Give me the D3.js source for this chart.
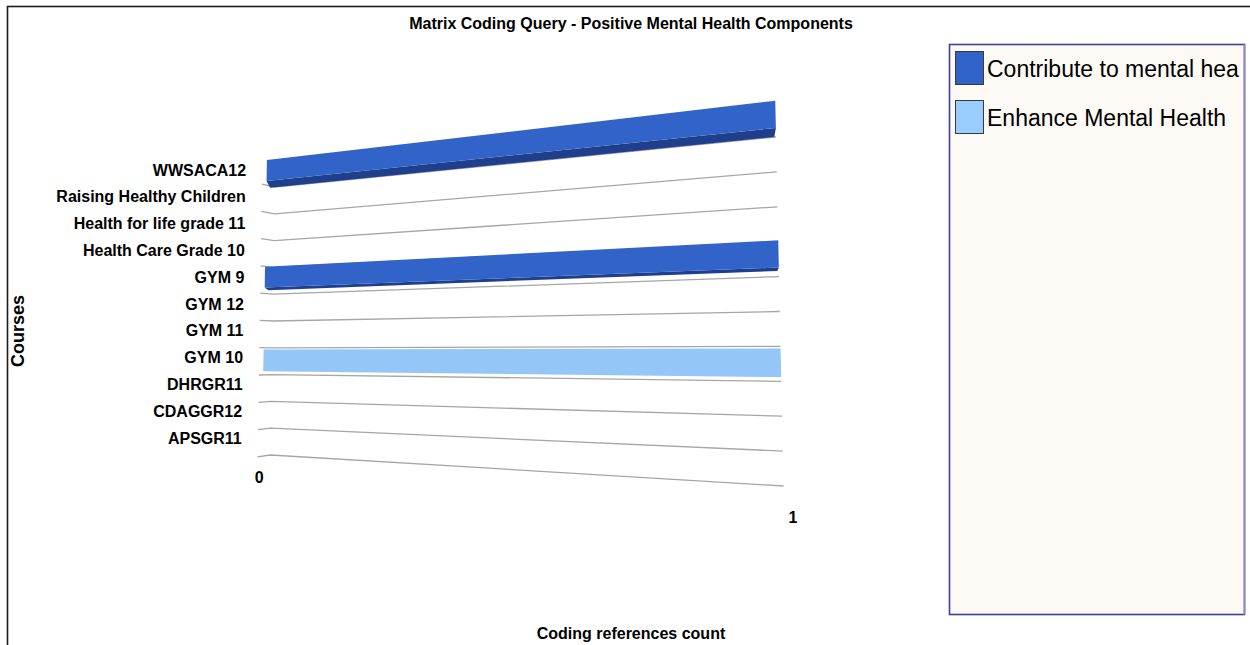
<!DOCTYPE html>
<html>
<head>
<meta charset="utf-8">
<script src="https://cdn.jsdelivr.net/npm/d3@7"></script>
<style>
  body { margin: 0; background: #fff; }
  svg { display: block; }
  text { font-family: "Liberation Sans", Arial, sans-serif; fill: #000; }
</style>
</head>
<body>
<svg id="chart" width="1250" height="645"></svg>
<script>
// ---- data ----
const chartTitle = "Matrix Coding Query - Positive Mental Health Components";
const courses = ["WWSACA12", "Raising Healthy Children", "Health for life grade 11", "Health Care Grade 10",
                 "GYM 9", "GYM 12", "GYM 11", "GYM 10", "DHRGR11", "CDAGGR12", "APSGR11"];
const seriesNames = ["Contribute to mental hea", "Enhance Mental Health"];
const contributeValues = [1, 0, 0, 0, 1, 0, 0, 0, 0, 0, 0];
const enhanceValues    = [0, 0, 0, 0, 0, 0, 0, 1, 0, 0, 0];
const xTicks = [0, 1];
const xTitle = "Coding references count";
const yTitle = "Courses";

const seriesValues = [contributeValues, enhanceValues];
const frontColors  = ["#3263c9", "#94c6f8"];
const shadeColors  = ["#1f3e8c", "#6e9fd8"];
const swatchColors = ["#3162c8", "#99ccff"];

const svg = d3.select("#chart");

// ---- perspective floor: the value axis runs left→right, courses run top→bottom ----
const corners = { tl: [275.4, 160.2], tr: [775.3, 102.1], bl: [270.5, 455], br: [783.5, 486] };
const horizon = 352;

// bilinear map of the unit plane (u along value, w down the course rows) to the screen
function project(u, w) {
  const a = corners;
  const x = (1 - u) * (1 - w) * a.tl[0] + u * (1 - w) * a.tr[0] + (1 - u) * w * a.bl[0] + u * w * a.br[0];
  const y = (1 - u) * (1 - w) * a.tl[1] + u * (1 - w) * a.tr[1] + (1 - u) * w * a.bl[1] + u * w * a.br[1];
  return [x, y];
}
// short edge that bends each row line toward the viewer at the left wall
function leftEdge(p) { return [p[0] - 13, p[1] + (p[1] - horizon) * 0.018]; }
// pushes a front edge back in depth (toward the horizon)
function backOf(p) { return [620 + (p[0] - 620) * 0.99, horizon + (p[1] - horizon) * 0.96]; }

const xScale = d3.scaleLinear().domain([0, 1]).range([0, 1]);
const rowScale = d3.scaleBand().domain(courses).range([0, 1]).padding(0);
const bw = rowScale.bandwidth();

// ---- outer frame ----
svg.append("rect").attr("x", 7.5).attr("y", 6.5).attr("width", 1270).attr("height", 670)
  .attr("fill", "none").attr("stroke", "#1c1c1c").attr("stroke-width", 1.6);

// ---- title ----
svg.append("text").attr("x", 631).attr("y", 29).attr("text-anchor", "middle")
  .attr("font-size", 16).attr("font-weight", "bold").text(chartTitle);

// ---- row lines ----
const line = d3.line();
const gGrid = svg.append("g");
for (let k = 1; k <= courses.length; k++) {
  const w = k * bw;
  const p0 = project(0, w), p1 = project(1, w);
  gGrid.append("path").attr("d", line([leftEdge(p0), p0, p1]))
    .attr("fill", "none").attr("stroke", "#a6a6a6").attr("stroke-width", 1.3);
}

// ---- bars ----
const bandOffsets = [[-0.04, 0.74], [0.06, 0.88]];
const gBars = svg.append("g");
seriesValues.forEach((vals, s) => {
  courses.forEach((c, i) => {
    const v = vals[i];
    if (!v) return;
    const wTop = rowScale(c) + bandOffsets[s][0] * bw;
    const wBot = rowScale(c) + bandOffsets[s][1] * bw;
    const u0 = xScale(0) - 0.017, u1 = xScale(v);
    const tl = project(u0, wTop), tr = project(u1, wTop), br = project(u1, wBot), bl = project(u0, wBot);
    if (bl[1] < horizon && br[1] < horizon) {
      gBars.append("path").attr("d", line([bl, br, backOf(br), backOf(bl)]) + "Z")
        .attr("fill", shadeColors[s]);
    }
    if (tl[1] > horizon && tr[1] > horizon) {
      gBars.append("path").attr("d", line([tl, tr, backOf(tr), backOf(tl)]) + "Z")
        .attr("fill", shadeColors[s]);
    }
    gBars.append("path").attr("d", line([tl, tr, br, bl]) + "Z").attr("fill", frontColors[s]);
  });
});

// ---- course labels ----
svg.append("g").selectAll("text").data(courses).join("text")
  .attr("x", c => leftEdge(project(0, rowScale(c) + bw / 2))[0] - 16)
  .attr("y", c => project(0, rowScale(c) + bw / 2)[1] - 3.5)
  .attr("text-anchor", "end").attr("dominant-baseline", "central")
  .attr("font-size", 16).attr("font-weight", "bold")
  .text(c => c);

// ---- value ticks ----
const tickShiftX = d3.scaleLinear().domain([0, 1]).range([-11, 9]);
const tickShiftY = d3.scaleLinear().domain([0, 1]).range([8, 11]);
svg.append("g").selectAll("text").data(xTicks).join("text")
  .attr("x", t => project(xScale(t), 1 + 0.75 * bw)[0] + tickShiftX(t))
  .attr("y", t => project(xScale(t), 1 + 0.75 * bw)[1] + tickShiftY(t))
  .attr("text-anchor", "middle").attr("font-size", 16).attr("font-weight", "bold")
  .text(t => t);

// ---- axis titles ----
svg.append("text").attr("x", 631).attr("y", 639).attr("text-anchor", "middle")
  .attr("font-size", 16).attr("font-weight", "bold").text(xTitle);
svg.append("text").attr("transform", "translate(24,331) rotate(-90)").attr("text-anchor", "middle")
  .attr("font-size", 18).attr("font-weight", "bold").text(yTitle);

// ---- legend ----
const gLeg = svg.append("g");
gLeg.append("rect").attr("x", 949.5).attr("y", 44.5).attr("width", 295).attr("height", 570)
  .attr("fill", "#fdf9f4").attr("stroke", "#3f3f9c").attr("stroke-width", 1.6);
gLeg.append("line").attr("x1", 1244.5).attr("x2", 1244.5).attr("y1", 44.5).attr("y2", 614.5)
  .attr("stroke", "#8e8ecf").attr("stroke-width", 1.8);
seriesNames.forEach((name, s) => {
  const y0 = 51.5 + s * 49;
  gLeg.append("rect").attr("x", 955.5).attr("y", y0).attr("width", 28).attr("height", 33)
    .attr("fill", swatchColors[s]).attr("stroke", "#3a3a3a").attr("stroke-width", 1);
  gLeg.append("text").attr("x", 987).attr("y", y0 + 25).attr("font-size", 23).text(name);
});
</script>
</body>
</html>
